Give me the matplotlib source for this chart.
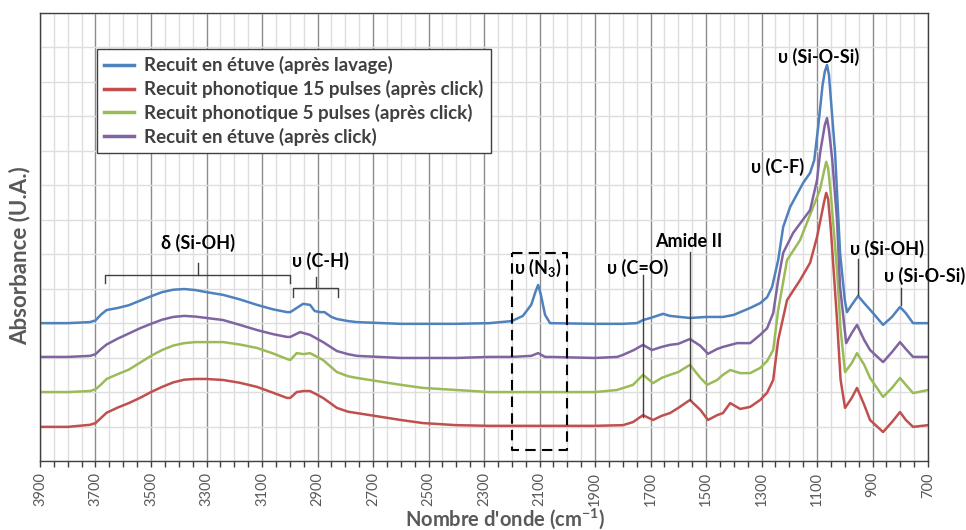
import numpy as np
import matplotlib
matplotlib.use("Agg")
import matplotlib.pyplot as plt
from matplotlib.ticker import FixedLocator, MultipleLocator
from matplotlib.lines import Line2D

plt.rcParams['font.family'] = ['Lato', 'DejaVu Sans']
plt.rcParams['mathtext.fontset'] = 'custom'
plt.rcParams['mathtext.rm'] = 'Lato'
plt.rcParams['mathtext.bf'] = 'Lato:bold'

# wavenumbers (cm-1) and absorbance (offset traces, U.A.)
wn_blue = [3900, 3800, 3720, 3700, 3680, 3660, 3620, 3580, 3540, 3500, 3460, 3420, 3380, 3340, 3300,
           3240, 3180, 3118, 3060, 3010, 2998, 2975, 2952, 2927, 2910, 2890, 2875, 2850, 2830, 2790,
           2758, 2600, 2400, 2280, 2200, 2160, 2130, 2115, 2105, 2095, 2080, 2062, 1900, 1800, 1749,
           1727, 1700, 1655, 1630, 1558, 1500, 1439, 1400, 1341, 1305, 1280, 1262, 1240, 1222, 1197,
           1150, 1125, 1110, 1096, 1080, 1072, 1064, 1057, 1050, 1035, 1017, 1000, 992, 975, 952,
           930, 898, 862, 830, 801, 780, 754, 700]
abs_blue = [0.400, 0.400, 0.403, 0.408, 0.425, 0.438, 0.444, 0.452, 0.465, 0.478, 0.490, 0.497, 0.499, 0.496, 0.490,
            0.482, 0.469, 0.453, 0.440, 0.432, 0.432, 0.444, 0.456, 0.453, 0.435, 0.432, 0.432, 0.418, 0.412, 0.406,
            0.403, 0.398, 0.398, 0.400, 0.406, 0.421, 0.453, 0.490, 0.511, 0.482, 0.424, 0.400, 0.398, 0.398, 0.400,
            0.409, 0.415, 0.427, 0.421, 0.415, 0.418, 0.418, 0.424, 0.444, 0.458, 0.475, 0.505, 0.583, 0.679, 0.737,
            0.807, 0.836, 0.873, 0.969, 1.091, 1.130, 1.149, 1.120, 1.048, 0.894, 0.604, 0.467, 0.432, 0.453, 0.479,
            0.458, 0.429, 0.395, 0.418, 0.447, 0.429, 0.400, 0.400]

wn_purple = [3900, 3800, 3720, 3700, 3680, 3660, 3620, 3580, 3540, 3500, 3460, 3420, 3380, 3340, 3300,
             3240, 3180, 3118, 3060, 3010, 2998, 2963, 2927, 2880, 2830, 2790, 2758, 2600, 2400, 2280,
             2200, 2130, 2105, 2080, 2062, 1900, 1820, 1799, 1760, 1727, 1695, 1660, 1630, 1600, 1558,
             1520, 1493, 1460, 1439, 1388, 1341, 1305, 1280, 1258, 1240, 1222, 1186, 1125, 1100, 1089,
             1072, 1064, 1057, 1045, 1028, 1017, 995, 975, 956, 930, 909, 862, 830, 801, 780,
             754, 700]
abs_purple = [0.302, 0.302, 0.305, 0.310, 0.325, 0.338, 0.355, 0.370, 0.385, 0.398, 0.410, 0.418, 0.421, 0.419, 0.415,
              0.409, 0.395, 0.380, 0.368, 0.360, 0.360, 0.374, 0.366, 0.345, 0.319, 0.310, 0.305, 0.299, 0.299, 0.302,
              0.302, 0.305, 0.313, 0.302, 0.302, 0.299, 0.302, 0.308, 0.322, 0.337, 0.322, 0.331, 0.337, 0.340, 0.354,
              0.334, 0.311, 0.325, 0.331, 0.342, 0.342, 0.366, 0.385, 0.429, 0.525, 0.604, 0.662, 0.728, 0.815, 0.894,
              0.975, 0.995, 0.960, 0.873, 0.699, 0.505, 0.342, 0.371, 0.395, 0.351, 0.322, 0.287, 0.316, 0.345, 0.325,
              0.302, 0.302]

wn_green = [3900, 3800, 3720, 3700, 3680, 3660, 3620, 3580, 3540, 3500, 3460, 3420, 3380, 3340, 3300,
            3240, 3180, 3118, 3060, 3010, 2998, 2975, 2950, 2927, 2880, 2830, 2790, 2758, 2600, 2520,
            2400, 2280, 2200, 2062, 1900, 1821, 1763, 1727, 1691, 1660, 1630, 1600, 1558, 1520, 1496,
            1460, 1439, 1413, 1377, 1341, 1305, 1280, 1258, 1240, 1208, 1161, 1114, 1090, 1075, 1067,
            1060, 1050, 1028, 1015, 999, 975, 956, 930, 909, 862, 830, 801, 780, 754, 700]
abs_green = [0.200, 0.200, 0.203, 0.208, 0.222, 0.238, 0.252, 0.265, 0.285, 0.305, 0.322, 0.335, 0.342, 0.345, 0.345,
             0.345, 0.338, 0.328, 0.312, 0.296, 0.293, 0.313, 0.310, 0.313, 0.293, 0.258, 0.246, 0.241, 0.221, 0.212,
             0.206, 0.200, 0.200, 0.200, 0.200, 0.206, 0.221, 0.250, 0.226, 0.241, 0.250, 0.258, 0.279, 0.241, 0.221,
             0.235, 0.250, 0.264, 0.255, 0.255, 0.270, 0.290, 0.322, 0.438, 0.583, 0.641, 0.737, 0.786, 0.840, 0.868,
             0.850, 0.772, 0.554, 0.380, 0.258, 0.284, 0.313, 0.279, 0.241, 0.186, 0.212, 0.241, 0.221, 0.197, 0.206]

wn_red = [3900, 3800, 3720, 3700, 3680, 3660, 3620, 3580, 3540, 3500, 3460, 3420, 3380, 3340, 3300,
          3240, 3180, 3118, 3060, 3010, 2998, 2975, 2950, 2927, 2880, 2830, 2790, 2758, 2600, 2520,
          2400, 2280, 2200, 2062, 1900, 1799, 1763, 1727, 1691, 1660, 1630, 1600, 1558, 1520, 1493,
          1460, 1439, 1413, 1377, 1341, 1305, 1280, 1258, 1240, 1208, 1161, 1125, 1100, 1075, 1067,
          1060, 1050, 1028, 1015, 999, 975, 956, 930, 909, 862, 830, 801, 780, 754, 700]
abs_red = [0.099, 0.099, 0.105, 0.110, 0.125, 0.140, 0.155, 0.168, 0.183, 0.200, 0.215, 0.228, 0.236, 0.238, 0.238,
           0.235, 0.227, 0.215, 0.198, 0.183, 0.183, 0.200, 0.203, 0.203, 0.183, 0.154, 0.143, 0.139, 0.119, 0.110,
           0.104, 0.102, 0.102, 0.102, 0.102, 0.104, 0.113, 0.133, 0.119, 0.131, 0.139, 0.154, 0.177, 0.148, 0.119,
           0.133, 0.139, 0.168, 0.151, 0.157, 0.177, 0.198, 0.235, 0.351, 0.467, 0.525, 0.575, 0.650, 0.750, 0.778,
           0.760, 0.670, 0.409, 0.235, 0.154, 0.183, 0.212, 0.163, 0.119, 0.084, 0.113, 0.142, 0.119, 0.099, 0.104]

labels = ["Recuit en étuve (après lavage)",
          "Recuit phonotique 15 pulses (après click)",
          "Recuit phonotique 5 pulses (après click)",
          "Recuit en étuve (après click)"]
colors = ["#4F81BD", "#C0504D", "#9BBB59", "#8064A2"]
xticks = [3900, 3700, 3500, 3300, 3100, 2900, 2700, 2500, 2300, 2100, 1900, 1700, 1500, 1300, 1100, 900, 700]

fig = plt.figure(figsize=(9.66, 5.30), dpi=100)
ax = fig.add_axes([0.0414, 0.1302, 0.9193, 0.8453])

ax.plot(wn_red, abs_red, color=colors[1], lw=1.8)
ax.plot(wn_green, abs_green, color=colors[2], lw=1.8)
ax.plot(wn_purple, abs_purple, color=colors[3], lw=1.8)
ax.plot(wn_blue, abs_blue, color=colors[0], lw=1.8)

ax.set_xlim(3900, 700)
ax.set_ylim(0, 1.3)
ax.xaxis.set_major_locator(FixedLocator(xticks))
ax.xaxis.set_minor_locator(MultipleLocator(50))
ax.yaxis.set_major_locator(MultipleLocator(0.1))
ax.set_yticklabels([])
ax.tick_params(axis='y', length=0)
ax.tick_params(axis='x', which='both', length=4, width=1, color='#404040',
               labelrotation=90, labelsize=10.5, labelcolor='#595959', pad=4)
ax.set_axisbelow(True)
ax.grid(which='major', axis='x', color='#8c8c8c', lw=1)
ax.grid(which='minor', axis='x', color='#dedede', lw=1)
ax.grid(which='major', axis='y', color='#dedede', lw=1)
for s in ax.spines.values():
    s.set_color('#404040')
    s.set_linewidth(1)

# annotations
tk = dict(ha='center', va='center', fontsize=13, fontweight='bold', color='black')
lk = dict(color='#404040', lw=1)
ax.text(3331, 0.633, "δ (Si-OH)", **tk)
ax.plot([3666, 3666, 2999, 2999], [0.517, 0.540, 0.540, 0.517], **lk)
ax.plot([3331, 3331], [0.540, 0.575], **lk)
ax.text(2891, 0.580, "υ (C-H)", **tk)
ax.plot([2988, 2988, 2826, 2826], [0.476, 0.502, 0.502, 0.476], **lk)
ax.plot([2905, 2905], [0.502, 0.534], **lk)
ax.text(2105, 0.560, r"υ (N$_\mathbf{3}$)", **tk)
ax.plot([2200, 2000, 2000, 2200, 2200], [0.604, 0.604, 0.032, 0.032, 0.604],
        color='black', lw=1.5, ls=(0, (5, 3)))
ax.text(1745, 0.560, "υ (C=O)", **tk)
ax.plot([1727, 1727], [0.540, 0.128], **lk)
ax.text(1561, 0.636, "Amide II", **tk)
ax.plot([1558, 1558], [0.607, 0.177], **lk)
ax.text(1244, 0.853, "υ (C-F)", **tk)
ax.text(1096, 1.172, "υ (Si-O-Si)", **tk)
ax.text(848, 0.615, "υ (Si-OH)", **tk)
ax.plot([952, 952], [0.586, 0.482], **lk)
ax.text(711, 0.537, "υ (Si-O-Si)", **tk)
ax.plot([797, 797], [0.502, 0.453], **lk)

handles = [Line2D([], [], color=c, lw=2.5) for c in colors]
leg = ax.legend(handles, labels, loc='upper left', bbox_to_anchor=(0.064, 0.92),
                borderaxespad=0, fancybox=False, framealpha=1, edgecolor='#404040',
                handlelength=1.6, handletextpad=0.5, labelspacing=0.3, borderpad=0.4,
                prop={'weight': 'bold', 'size': 13.5})
leg.get_frame().set_linewidth(1)
for t in leg.get_texts():
    t.set_color('#404040')

fig.text(20 / 966, 1 - 256 / 530, "Absorbance (U.A.)", rotation=90, ha='center', va='center',
         fontsize=16, fontweight='bold', color='#595959')
fig.text(505 / 966, 4 / 530, r"Nombre d'onde (cm$^{\mathbf{-1}}$)", ha='center', va='baseline',
         fontsize=14.5, fontweight='bold', color='#595959')

fig.savefig("out.png", dpi=100)
